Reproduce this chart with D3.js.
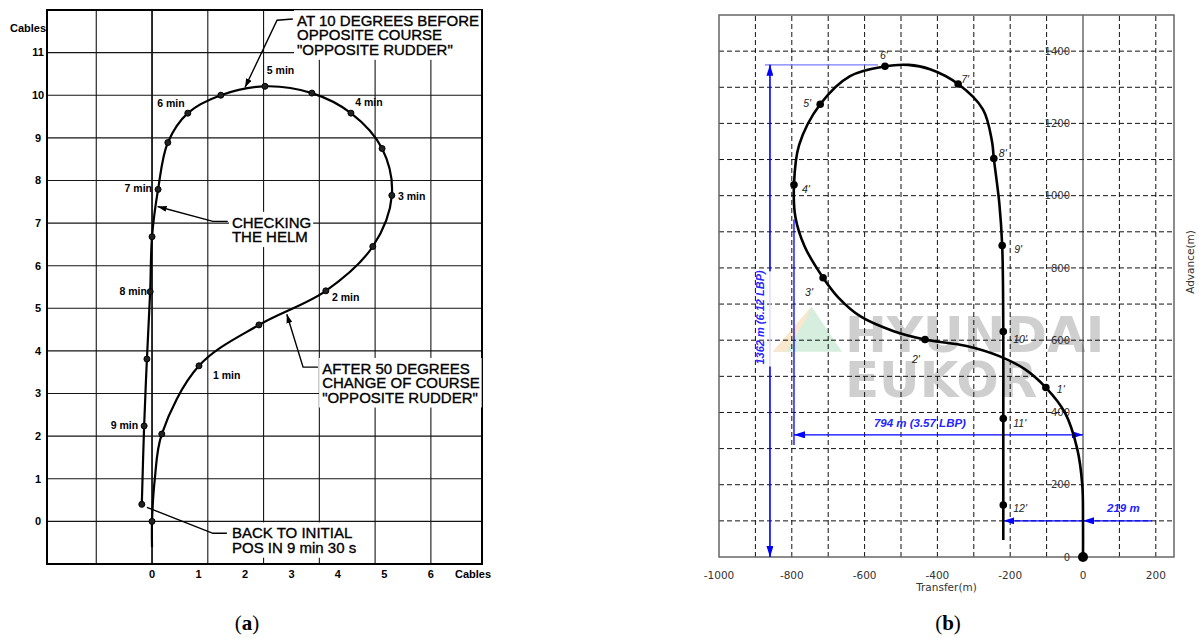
<!DOCTYPE html>
<html><head><meta charset="utf-8">
<script src="https://cdn.jsdelivr.net/npm/d3@7"></script>
<style>body{margin:0;background:#fff}svg{display:block}</style>
</head><body>
<script>
// ---------- Panel (a): Williamson turn, distances in cables, a fix every 30 s ----------
const halfMinutes = [0,0.5,1,1.5,2,2.5,3,3.5,4,4.5,5,5.5,6,6.5,7,7.5,8,8.5,9,9.5];
const turnX = [0,0.21,1.01,2.30,3.74,4.75,5.16,4.95,4.28,3.44,2.43,1.48,0.77,0.34,0.13,0.0,-0.04,-0.11,-0.17,-0.22];
const turnY = [0,2.05,3.65,4.61,5.41,6.45,7.65,8.75,9.58,10.05,10.21,10.0,9.58,8.89,7.79,6.68,5.39,3.81,2.24,0.40];
// track before the wheel order, and the bend between the start and the first fix
const leadInX = [0], leadInY = [-0.6];
const bendX = [0.06], bendY = [1.0];
const cableTicksX = [0,1,2,3,4,5,6];
const cableTicksY = [0,1,2,3,4,5,6,7,8,9,10,11];
const cableGridX = [-1.2,0,1.2,2.4,3.6,4.8,6.0];
const cableGridY = [0,1,2,3,4,5,6,7,8,9,10,11];

// ---------- Panel (b): turning circle trial, metres ----------
const markLabels = ["1'","2'","3'","4'","5'","6'","7'","8'","9'","10'","11'","12'"];
const markX = [-102,-434,-714,-794,-722,-544,-343,-245,-222,-219,-219,-219];
const markY = [469,602,773,1030,1253,1358,1309,1103,862,624,383,144];
const trackBX = [0,0,-2,-16,-50,-102,-160,-230,-320,-434,-520,-610,-672,-714,-765,-790,-794,-780,-722,-640,-544,-480,-420,-343,-275,-250,-245,-230,-222,-219,-219,-219,-219];
const trackBY = [0,100,200,300,400,469,520,556,584,602,625,665,718,773,860,940,1030,1140,1253,1331,1358,1362,1350,1309,1239,1150,1103,980,862,624,383,144,47];
const transferTicks = [-1000,-800,-600,-400,-200,0,200];
const transferGrid = [-900,-800,-700,-600,-500,-400,-300,-200,-100,100,200];
const advanceTicks = [0,200,400,600,800,1000,1200,1400];
const advanceGrid = [100,200,300,400,500,600,700,800,900,1000,1100,1200,1300,1400];
const advanceMax = 1362, transferMax = 794, finalOffset = 219;

const W = 1199, H = 639;
const svg = d3.select("body").append("svg").attr("width", W).attr("height", H);
const defs = svg.append("defs");
function marker(id, color, len, wid) {
  defs.append("marker").attr("id", id)
    .attr("viewBox", `0 0 ${len} ${wid}`).attr("refX", len).attr("refY", wid / 2)
    .attr("markerWidth", len).attr("markerHeight", wid)
    .attr("markerUnits", "userSpaceOnUse").attr("orient", "auto-start-reverse")
    .append("path").attr("d", `M0,0L${len},${wid / 2}L0,${wid}Z`).attr("fill", color);
}
marker("arrBlue", "#0000ff", 11, 7);
marker("arrBlack", "#000", 9, 6);

// =============== (a) ===============
const xA = d3.scaleLinear().domain([-2.26, 7.1]).range([47, 482]);
const yA = d3.scaleLinear().domain([-1, 12]).range([564, 10]);
const gA = svg.append("g").attr("font-family", "'Liberation Sans', Arial, sans-serif");

gA.selectAll("line.gv").data(cableGridX).join("line").attr("class", "gv")
  .attr("x1", d => xA(d)).attr("x2", d => xA(d)).attr("y1", yA(-1)).attr("y2", yA(12))
  .attr("stroke", "#151515").attr("stroke-width", d => d === 0 ? 1.8 : 1.1);
gA.selectAll("line.gh").data(cableGridY).join("line").attr("class", "gh")
  .attr("x1", xA(-2.26)).attr("x2", xA(7.1)).attr("y1", d => yA(d)).attr("y2", d => yA(d))
  .attr("stroke", "#151515").attr("stroke-width", 1.1);
gA.append("rect").attr("x", xA(-2.26)).attr("y", yA(12))
  .attr("width", xA(7.1) - xA(-2.26)).attr("height", yA(-1) - yA(12))
  .attr("fill", "none").attr("stroke", "#000").attr("stroke-width", 2);

gA.selectAll("text.ty").data(cableTicksY).join("text").attr("class", "ty")
  .attr("x", xA(-2.26) - 9).attr("y", d => yA(d)).attr("dy", "0.35em")
  .attr("text-anchor", "middle").attr("font-size", 11).attr("font-weight", "bold").text(d => d);
gA.selectAll("text.tx").data(cableTicksX).join("text").attr("class", "tx")
  .attr("x", d => xA(d)).attr("y", 578).attr("text-anchor", "middle")
  .attr("font-size", 11).attr("font-weight", "bold").text(d => d);
gA.append("text").attr("x", 10).attr("y", 32).attr("font-size", 11).attr("font-weight", "bold").text("Cables");
gA.append("text").attr("x", 455).attr("y", 578).attr("font-size", 11).attr("font-weight", "bold").text("Cables");

// callouts with white boxes over the grid
const callouts = [
  { x: 3.12, y: 11.62, lines: ["AT 10 DEGREES BEFORE", "OPPOSITE COURSE", "\"OPPOSITE RUDDER\""],
    leader: [[3.03, 11.79], [2.69, 11.76], [2.0, 10.18]], arrow: true },
  { x: 1.72, y: 6.89, lines: ["CHECKING", "THE HELM"],
    leader: [[1.63, 7.04], [1.31, 7.04], [0.12, 7.39]], arrow: true },
  { x: 3.66, y: 3.46, lines: ["AFTER 50 DEGREES", "CHANGE OF COURSE", "\"OPPOSITE RUDDER\""],
    leader: [[3.57, 3.62], [3.25, 3.62], [2.90, 4.86]], arrow: true },
  { x: 1.72, y: -0.40, lines: ["BACK TO INITIAL", "POS IN 9 min 30 s"],
    leader: [[1.61, -0.28], [1.31, -0.28], [-0.11, 0.33]], arrow: false }
];
const leaderLine = d3.line().x(d => xA(d[0])).y(d => yA(d[1]));
callouts.forEach(c => {
  const g = gA.append("g");
  const t = g.append("text").attr("x", xA(c.x)).attr("y", yA(c.y))
    .attr("font-size", 15).attr("fill", "#000").attr("stroke", "#000").attr("stroke-width", 0.35);
  c.lines.forEach((s, i) => t.append("tspan").attr("x", xA(c.x)).attr("dy", i === 0 ? 0 : 14.3).text(s));
  const b = t.node().getBBox();
  g.insert("rect", "text").attr("x", b.x - 3).attr("y", b.y - 2)
    .attr("width", b.width + 5).attr("height", b.height + 4).attr("fill", "#fff");
  gA.append("path").attr("d", leaderLine(c.leader)).attr("fill", "none")
    .attr("stroke", "#000").attr("stroke-width", 1.4)
    .attr("marker-end", c.arrow ? "url(#arrBlack)" : null);
});

// track
const trackAX = leadInX.concat([turnX[0]], bendX, turnX.slice(1));
const trackAY = leadInY.concat([turnY[0]], bendY, turnY.slice(1));
const lineA = d3.line().curve(d3.curveCatmullRom.alpha(0.5)).x((d, i) => xA(trackAX[i])).y((d, i) => yA(trackAY[i]));
gA.append("path").attr("d", lineA(trackAX)).attr("fill", "none").attr("stroke", "#000").attr("stroke-width", 2.2);
gA.selectAll("circle.fix").data(halfMinutes).join("circle").attr("class", "fix")
  .attr("cx", (d, i) => xA(turnX[i])).attr("cy", (d, i) => yA(turnY[i])).attr("r", 3)
  .attr("fill", "#222").attr("stroke", "#000").attr("stroke-width", 1);

const minuteTags = [
  { t: "1 min", x: 1.31, y: 3.34, a: "start" }, { t: "2 min", x: 3.87, y: 5.18, a: "start" },
  { t: "3 min", x: 5.29, y: 7.55, a: "start" }, { t: "4 min", x: 4.37, y: 9.74, a: "start" },
  { t: "5 min", x: 2.47, y: 10.49, a: "start" }, { t: "6 min", x: 0.11, y: 9.72, a: "start" },
  { t: "7 min", x: 0.0, y: 7.72, a: "end" }, { t: "8 min", x: -0.11, y: 5.32, a: "end" },
  { t: "9 min", x: -0.30, y: 2.16, a: "end" }
];
gA.selectAll("text.mt").data(minuteTags).join("text").attr("class", "mt")
  .attr("x", d => xA(d.x)).attr("y", d => yA(d.y)).attr("text-anchor", d => d.a)
  .attr("font-size", 10.5).attr("font-weight", "bold").text(d => d.t);

// =============== (b) ===============
const xB = d3.scaleLinear().domain([-1000, 250]).range([719, 1174]);
const yB = d3.scaleLinear().domain([0, 1500]).range([557, 15]);
const gB = svg.append("g").attr("font-family", "'DejaVu Sans', Verdana, sans-serif");

// company watermark
const wm = gB.append("g");
wm.append("path").attr("d", `M${xB(-852)},${yB(568)}L${xB(-746)},${yB(693)}L${xB(-662)},${yB(568)}Z`)
  .attr("fill", "#d6eedd");
wm.append("path").attr("d", `M${xB(-852)},${yB(568)}L${xB(-746)},${yB(693)}L${xB(-760)},${yB(660)}L${xB(-815)},${yB(568)}Z`)
  .attr("fill", "#fbe7cd");
wm.append("text").attr("x", xB(-654)).attr("y", yB(568)).attr("font-size", 50).attr("font-weight", "bold")
  .attr("fill", "#cfcfcf").text("HYUNDAI");
wm.append("text").attr("x", xB(-654)).attr("y", yB(443)).attr("font-size", 50).attr("font-weight", "bold")
  .attr("fill", "#cfcfcf").text("EUKOR");

gB.selectAll("line.bv").data(transferGrid).join("line").attr("class", "bv")
  .attr("x1", d => xB(d)).attr("x2", d => xB(d)).attr("y1", yB(0)).attr("y2", yB(1500))
  .attr("stroke", "#111").attr("stroke-width", 1).attr("stroke-dasharray", "5,3");
gB.selectAll("line.bh").data(advanceGrid).join("line").attr("class", "bh")
  .attr("x1", xB(-1000)).attr("x2", xB(250)).attr("y1", d => yB(d)).attr("y2", d => yB(d))
  .attr("stroke", "#111").attr("stroke-width", 1).attr("stroke-dasharray", "5,3");
gB.append("line").attr("x1", xB(0)).attr("x2", xB(0)).attr("y1", yB(0)).attr("y2", yB(1500))
  .attr("stroke", "#222").attr("stroke-width", 1);
gB.append("rect").attr("x", xB(-1000)).attr("y", yB(1500))
  .attr("width", xB(250) - xB(-1000)).attr("height", yB(0) - yB(1500))
  .attr("fill", "none").attr("stroke", "#666").attr("stroke-width", 1.5);

gB.selectAll("text.by").data(advanceTicks).join("text").attr("class", "by")
  .attr("x", xB(0) - 13).attr("y", d => yB(d)).attr("dy", "0.36em").attr("text-anchor", "end")
  .attr("font-size", 10).attr("fill", "#333").text(d => d);
gB.selectAll("text.bx").data(transferTicks).join("text").attr("class", "bx")
  .attr("x", d => xB(d)).attr("y", 579).attr("text-anchor", "middle")
  .attr("font-size", 10.5).attr("fill", "#333").text(d => d);
gB.append("text").attr("x", (xB(-1000) + xB(250)) / 2).attr("y", 591).attr("text-anchor", "middle")
  .attr("font-size", 10.5).attr("fill", "#333").text("Transfer(m)");
gB.append("text").attr("transform", "translate(1194,262) rotate(-90)").attr("text-anchor", "middle")
  .attr("font-size", 10.5).attr("fill", "#333").text("Advance(m)");

// dimension lines
const blue = "#0000ff";
const dim = gB.append("g").attr("stroke", blue).attr("fill", "none");
dim.append("line").attr("x1", xB(-874)).attr("x2", xB(-563)).attr("y1", yB(advanceMax)).attr("y2", yB(advanceMax))
  .attr("stroke", "#7b7bff").attr("stroke-width", 1.3);
dim.append("line").attr("x1", xB(-860)).attr("x2", xB(-860)).attr("y1", yB(790)).attr("y2", yB(advanceMax))
  .attr("stroke-width", 1.6).attr("marker-end", "url(#arrBlue)");
dim.append("line").attr("x1", xB(-860)).attr("x2", xB(-860)).attr("y1", yB(790)).attr("y2", yB(527))
  .attr("stroke", "#d4d4ff").attr("stroke-width", 1.2);
dim.append("line").attr("x1", xB(-860)).attr("x2", xB(-860)).attr("y1", yB(527)).attr("y2", yB(0))
  .attr("stroke-width", 1.6).attr("marker-end", "url(#arrBlue)");
dim.append("line").attr("x1", xB(-transferMax)).attr("x2", xB(-transferMax)).attr("y1", yB(934)).attr("y2", yB(310))
  .attr("stroke-width", 1.3);
dim.append("line").attr("x1", xB(-transferMax)).attr("x2", xB(0)).attr("y1", yB(338)).attr("y2", yB(338))
  .attr("stroke-width", 1.4).attr("marker-start", "url(#arrBlue)").attr("marker-end", "url(#arrBlue)");
dim.append("line").attr("x1", xB(190)).attr("x2", xB(0)).attr("y1", yB(100)).attr("y2", yB(100))
  .attr("stroke-width", 1.4).attr("marker-end", "url(#arrBlue)");
dim.append("line").attr("x1", xB(0)).attr("x2", xB(-finalOffset)).attr("y1", yB(100)).attr("y2", yB(100))
  .attr("stroke-width", 1.4).attr("marker-end", "url(#arrBlue)");

const dimFont = "'Liberation Sans', Arial, sans-serif";
gB.append("text").attr("transform", `translate(${xB(-877)},${yB(663)}) rotate(-90)`).attr("text-anchor", "middle")
  .attr("font-family", dimFont).attr("font-size", 11).attr("font-weight", "bold").attr("font-style", "italic")
  .attr("fill", "#2424ff").text(`${advanceMax} m (6.12 LBP)`);
gB.append("text").attr("x", xB(-448)).attr("y", yB(360)).attr("text-anchor", "middle")
  .attr("font-family", dimFont).attr("font-size", 11.5).attr("font-weight", "bold").attr("font-style", "italic")
  .attr("fill", "#2424ff").text(`${transferMax} m (3.57 LBP)`);
gB.append("text").attr("x", xB(66)).attr("y", yB(125))
  .attr("font-family", dimFont).attr("font-size", 11.5).attr("font-weight", "bold").attr("font-style", "italic")
  .attr("fill", "#2424ff").text(`${finalOffset} m`);

// track
const lineB = d3.line().curve(d3.curveCatmullRom.alpha(0.5)).x((d, i) => xB(trackBX[i])).y((d, i) => yB(trackBY[i]));
gB.append("path").attr("d", lineB(trackBX)).attr("fill", "none").attr("stroke", "#000").attr("stroke-width", 2.6);
gB.append("circle").attr("cx", xB(0)).attr("cy", yB(0)).attr("r", 5).attr("fill", "#000");
gB.selectAll("circle.mk").data(markLabels).join("circle").attr("class", "mk")
  .attr("cx", (d, i) => xB(markX[i])).attr("cy", (d, i) => yB(markY[i])).attr("r", 3.8).attr("fill", "#000");
const labelOffsets = [[11,5],[-13,24],[-18,18],[8,8],[-17,3],[-5,-7],[3,-1],[5,-1],[12,7],[10,11],[10,8],[10,7]];
gB.selectAll("text.mk").data(markLabels).join("text").attr("class", "mk")
  .attr("x", (d, i) => xB(markX[i]) + labelOffsets[i][0]).attr("y", (d, i) => yB(markY[i]) + labelOffsets[i][1])
  .attr("font-family", dimFont).attr("font-style", "italic").attr("font-size", 10.5).attr("fill", "#222").text(d => d);

// panel letters
[["a", 247], ["b", 948]].forEach(([k, cx]) => {
  const t = svg.append("text").attr("x", cx).attr("y", 630).attr("text-anchor", "middle")
    .attr("font-family", "'Liberation Serif', 'Times New Roman', serif").attr("font-size", 21);
  t.append("tspan").text("(");
  t.append("tspan").attr("font-weight", "bold").text(k);
  t.append("tspan").text(")");
});
</script>
</body></html>
